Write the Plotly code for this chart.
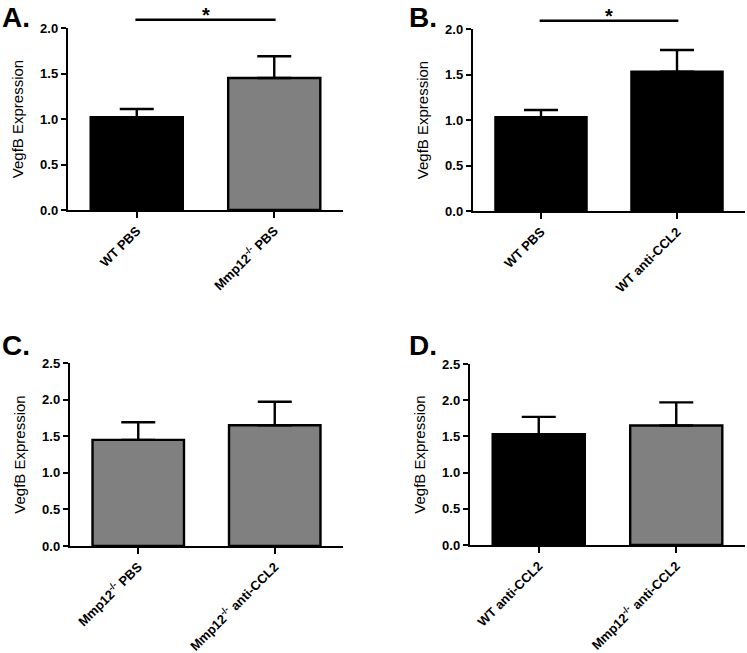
import plotly.graph_objects as go

W, H = 747, 653

# ---- data ----
cats_A = ["WT PBS", "Mmp12<sup>-/-</sup> PBS"]
vals_A = [1.02, 1.45]
err_A = [0.09, 0.24]

cats_B = ["WT PBS", "WT anti-CCL2"]
vals_B = [1.03, 1.53]
err_B = [0.08, 0.24]

cats_C = ["Mmp12<sup>-/-</sup> PBS", "Mmp12<sup>-/-</sup> anti-CCL2"]
vals_C = [1.45, 1.65]
err_C = [0.24, 0.32]

cats_D = ["WT anti-CCL2", "Mmp12<sup>-/-</sup> anti-CCL2"]
vals_D = [1.53, 1.65]
err_D = [0.24, 0.32]

BLACK = "#000000"
GREY = "#808080"

panels = [
    ("A.", cats_A, vals_A, err_A, [BLACK, GREY], 2.0, [0, 0.5, 1.0, 1.5, 2.0], (68, 343, 28, 210), True, (0, 0)),
    ("B.", cats_B, vals_B, err_B, [BLACK, BLACK], 2.0, [0, 0.5, 1.0, 1.5, 2.0], (473, 745, 29, 211), True, (407, 0)),
    ("C.", cats_C, vals_C, err_C, [GREY, GREY], 2.5, [0, 0.5, 1.0, 1.5, 2.0, 2.5], (70, 343, 363, 546), False, (0, 328)),
    ("D.", cats_D, vals_D, err_D, [BLACK, GREY], 2.5, [0, 0.5, 1.0, 1.5, 2.0, 2.5], (470, 745, 364, 545), False, (407, 328)),
]

FONT = "Liberation Sans, Arial, sans-serif"

fig = go.Figure()
layout = dict(
    width=W, height=H,
    margin=dict(l=0, r=0, t=0, b=0, pad=0, autoexpand=False),
    paper_bgcolor="white", plot_bgcolor="white",
    showlegend=False,
    font=dict(family=FONT, color="black"),
)
shapes = []
annotations = []

for i, (letter, cats, vals, errs, colors, ymax, yticks, box, sig, lpos) in enumerate(panels):
    n = i + 1
    xname = "x" if n == 1 else f"x{n}"
    yname = "y" if n == 1 else f"y{n}"
    xk = "xaxis" if n == 1 else f"xaxis{n}"
    yk = "yaxis" if n == 1 else f"yaxis{n}"
    x0, x1, yt, yb = box
    fig.add_trace(go.Bar(
        x=[0, 1], y=vals,
        xaxis=xname, yaxis=yname,
        width=0.67,
        marker=dict(color=colors, line=dict(color="black", width=2.4)),
        error_y=dict(type="data", symmetric=False, array=errs,
                     arrayminus=[0] * len(errs),
                     color="black", thickness=2.4, width=17),
        hoverinfo="skip",
    ))
    layout[xk] = dict(
        domain=[x0 / W, x1 / W], anchor=yname, automargin=False,
        range=[-0.5, 1.5], tickmode="array", tickvals=[0, 1], ticktext=cats,
        tickangle=-45, ticks="outside", ticklen=6, tickwidth=2, tickcolor="black",
        showline=True, linewidth=2.2, linecolor="black",
        showgrid=False, zeroline=False, fixedrange=True,
        tickfont=dict(family=FONT, size=13, weight="bold", color="black"),
    )
    layout[yk] = dict(
        domain=[1 - yb / H, 1 - yt / H], anchor=xname, automargin=False,
        range=[0, ymax], tickmode="array", tickvals=yticks,
        ticktext=[f"{v:.1f}" for v in yticks],
        ticks="outside", ticklen=5, tickwidth=2, tickcolor="black",
        showline=True, linewidth=2.2, linecolor="black",
        showgrid=False, zeroline=False, fixedrange=True,
        tickfont=dict(family=FONT, size=13, weight="bold", color="black"),
        title=dict(text="VegfB Expression", standoff=13,
                   font=dict(family=FONT, size=15, color="black")),
    )
    if sig:
        shapes.append(dict(type="line", xref=f"{xname} domain", yref=f"{yname} domain",
                           x0=0.245, x1=0.755, y0=1.045, y1=1.045,
                           line=dict(color="black", width=2.4)))
        annotations.append(dict(text="<b>*</b>", xref=f"{xname} domain", yref=f"{yname} domain",
                                x=0.5, y=1.07, xanchor="center", yanchor="middle",
                                showarrow=False, font=dict(family=FONT, size=20, color="black")))
    annotations.append(dict(text=f"<b>{letter}</b>", xref="paper", yref="paper",
                            x=lpos[0] / W, y=1 - lpos[1] / H, xanchor="left", yanchor="top",
                            showarrow=False, font=dict(family=FONT, size=28, color="black")))

layout["shapes"] = shapes
layout["annotations"] = annotations
fig.update_layout(**layout)
fig.write_html("out.html", config={"displayModeBar": False, "staticPlot": True},
               post_script="document.body.style.margin='0';document.body.style.padding='0';document.body.style.overflow='hidden';")
